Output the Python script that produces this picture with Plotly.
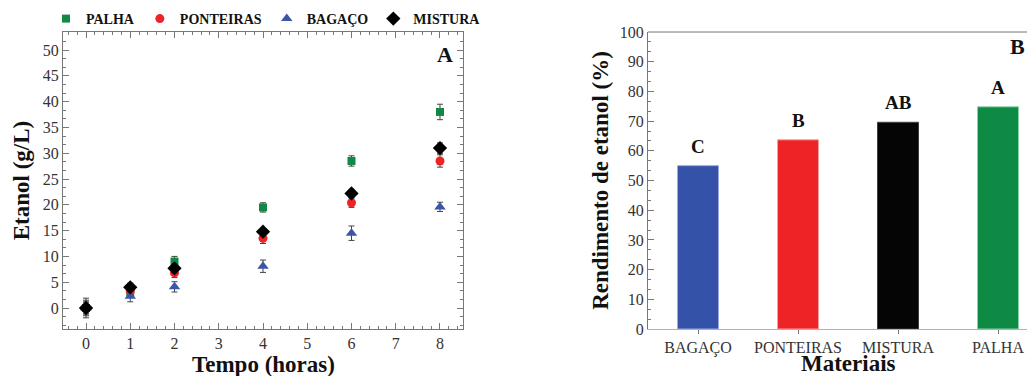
import plotly.graph_objects as go

# ---------------- Panel A data ----------------
tempo = [0, 1, 2, 4, 6, 8]
palha = [0.0, 3.0, 9.0, 19.5, 28.5, 38.0]
palha_err = [1.9, 0.8, 1.0, 0.9, 1.0, 1.5]
ponteiras = [0.0, 3.3, 6.8, 13.5, 20.4, 28.5]
ponteiras_err = [1.2, 0.8, 0.9, 1.0, 0.9, 1.2]
bagaco = [0.0, 2.3, 4.1, 8.1, 14.5, 19.6]
bagaco_err = [1.5, 1.1, 1.0, 1.2, 1.4, 0.9]
mistura = [0.0, 4.0, 7.7, 14.8, 22.2, 31.0]
mistura_err = [1.0, 0.8, 0.8, 0.6, 0.8, 1.0]

# ---------------- Panel B data ----------------
materiais = ["BAGAÇO", "PONTEIRAS", "MISTURA", "PALHA"]
rendimento = [55.0, 63.7, 69.6, 74.8]
letras = ["C", "B", "AB", "A"]
bar_colors = ["#3352A8", "#EE2326", "#050505", "#0E8A45"]
bar_edges = ["#9AAAE0", "#F7A0A0", "#404040", "#8CD0A8"]

SERIF = "Liberation Serif"
TICKC = "#333333"
AXC = "#777777"
OFF = 8                      # page body margin offset
W, H = 1035 - 2 * OFF, 376 - OFF


def px_x(x):
    return (x - OFF) / W


def px_y(y):
    return 1 - (y - OFF) / H


TITLE_FONT = dict(family=SERIF, size=23, color="#111111", weight="bold")

fig = go.Figure()

series = [
    ("PALHA", palha, palha_err, "#0E8A45", "square", 8),
    ("PONTEIRAS", ponteiras, ponteiras_err, "#EE2326", "circle", 9),
    ("BAGAÇO", bagaco, bagaco_err, "#3A56A8", "triangle-up", 10),
    ("MISTURA", mistura, mistura_err, "#000000", "diamond", 11),
]
for name, ys, es, col, sym, sz in series:
    fig.add_trace(go.Scatter(
        x=tempo, y=ys, mode="markers", name=name,
        marker=dict(color=col, symbol=sym, size=sz),
        error_y=dict(type="data", array=es, visible=True, color="#444444", thickness=1, width=3),
        xaxis="x", yaxis="y",
    ))

fig.add_trace(go.Bar(
    x=materiais, y=rendimento, width=0.41,
    marker=dict(color=bar_colors, line=dict(color=bar_edges, width=1)),
    showlegend=False, xaxis="x2", yaxis="y2",
))

ann = []
for m, v, l in zip(materiais, rendimento, letras):
    ann.append(dict(x=m, y=v, xref="x2", yref="y2", text=l, showarrow=False,
                    yanchor="bottom", yshift=7,
                    font=dict(family=SERIF, size=19, color="#111111", weight="bold")))
ann.append(dict(x=1.0, y=1.0, xref="x domain", yref="y domain", text="A", showarrow=False,
                xanchor="right", yanchor="top", xshift=-8, yshift=-8,
                font=dict(family=SERIF, size=22, color="#111111", weight="bold")))
ann.append(dict(x=1.0, y=px_y(46), xref="paper", yref="paper", text="B", showarrow=False,
                xanchor="right", yanchor="middle",
                font=dict(family=SERIF, size=22, color="#111111", weight="bold")))
# x-axis titles
ann.append(dict(x=0.5, y=px_y(364), xref="x domain", yref="paper", text="Tempo (horas)",
                showarrow=False, xanchor="center", yanchor="middle", font=TITLE_FONT))
ann.append(dict(x=px_x(848), y=px_y(363), xref="paper", yref="paper", text="Materiais",
                showarrow=False, xanchor="center", yanchor="middle", font=TITLE_FONT))

fig.update_layout(
    width=W, height=H,
    margin=dict(l=0, r=0, t=0, b=0, autoexpand=False),
    paper_bgcolor="white", plot_bgcolor="white",
    font=dict(family=SERIF, color=TICKC),
    annotations=ann,
    legend=dict(orientation="h", x=px_x(46), y=px_y(19), xanchor="left", yanchor="middle",
                font=dict(family=SERIF, size=14, color="#111111", weight="bold"),
                itemwidth=30, tracegroupgap=0, bgcolor="rgba(0,0,0,0)"),
    xaxis=dict(domain=[px_x(63), px_x(463)], range=[-0.52, 8.52], dtick=1, tick0=0,
               anchor="y", automargin=False,
               showline=True, linecolor=AXC, linewidth=1, mirror="ticks",
               ticks="inside", ticklen=6, tickcolor=AXC,
               minor=dict(dtick=0.2, tick0=0, ticks="inside", ticklen=3, tickcolor=AXC),
               showgrid=False, zeroline=False,
               tickfont=dict(family=SERIF, size=16, color=TICKC)),
    yaxis=dict(domain=[px_y(329), px_y(32)], range=[-4.07, 53.5], dtick=5, tick0=0,
               anchor="x", automargin=False,
               showline=True, linecolor=AXC, linewidth=1, mirror="ticks",
               ticks="inside", ticklen=6, tickcolor=AXC,
               minor=dict(dtick=5 / 3, tick0=0, ticks="inside", ticklen=3, tickcolor=AXC),
               showgrid=False, zeroline=False,
               tickfont=dict(family=SERIF, size=16, color=TICKC),
               title=dict(text="Etanol (g/L)", standoff=6, font=TITLE_FONT)),
    xaxis2=dict(domain=[px_x(648), 1.0], range=[-0.5, 3.29], anchor="y2", automargin=False,
                showline=True, linecolor="#E8A080", linewidth=1.2,
                ticks="outside", ticklen=4, tickcolor=AXC,
                showgrid=False, zeroline=False,
                tickfont=dict(family=SERIF, size=16, color=TICKC)),
    yaxis2=dict(domain=[px_y(329), px_y(32)], range=[0, 100], dtick=10, tick0=0,
                anchor="x2", automargin=False,
                showline=True, linecolor=AXC, linewidth=1,
                ticks="inside", ticklen=6, tickcolor=AXC,
                minor=dict(dtick=10 / 3, tick0=0, ticks="inside", ticklen=3, tickcolor=AXC),
                showgrid=False, zeroline=False,
                tickfont=dict(family=SERIF, size=16, color=TICKC),
                title=dict(text="Rendimento de etanol (%)", standoff=4, font=TITLE_FONT)),
    shapes=[dict(type="line", xref="x2 domain", yref="y2 domain", x0=0, x1=1, y0=1, y1=1,
                 line=dict(color=AXC, width=1))],
)

fig.write_html("out.html")
